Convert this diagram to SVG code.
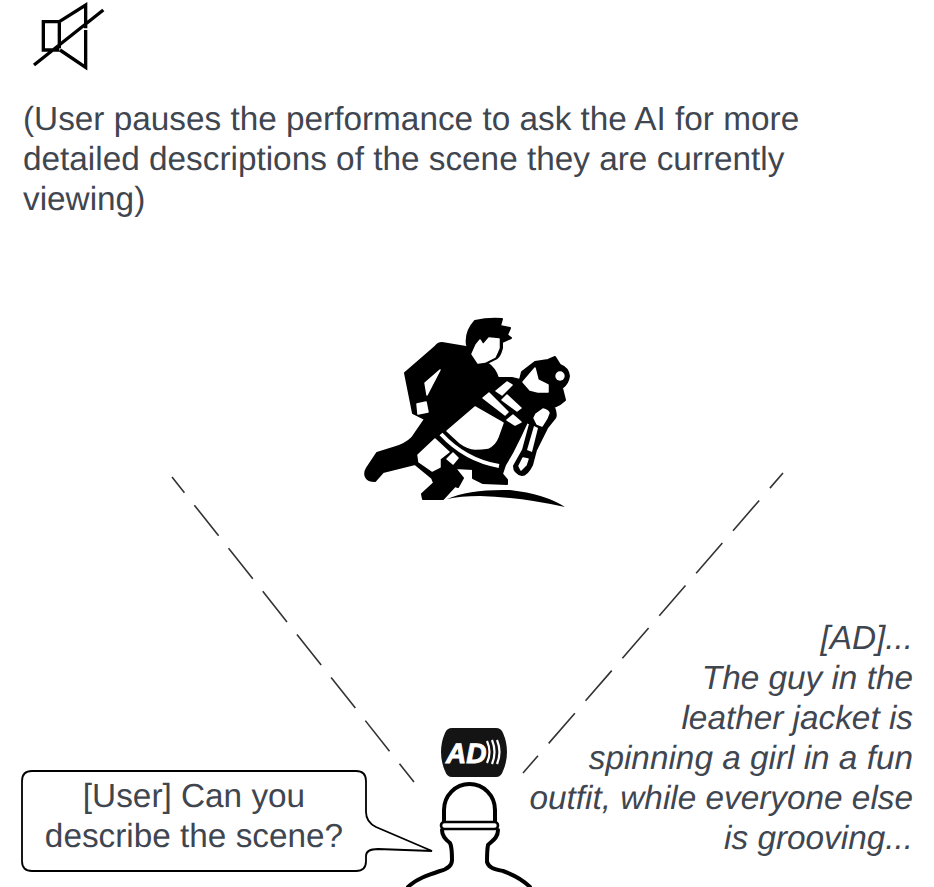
<svg xmlns="http://www.w3.org/2000/svg" width="934" height="887" viewBox="0 0 934 887">
<style>
text{font-family:"Liberation Sans",Arial,sans-serif;font-size:33.33px;fill:#3f4650;text-rendering:geometricPrecision}
.it{font-style:italic;text-anchor:end}
.mid{text-anchor:middle}
.ln{fill:none;stroke:#000;stroke-linejoin:round;stroke-linecap:round}
.dash{fill:none;stroke:#333;stroke-width:1.6}
.blk{fill:#000;stroke:#000;stroke-width:2;stroke-linejoin:round}
.wht{fill:#fff;stroke:#fff;stroke-width:1.5;stroke-linejoin:round}
</style>
<rect width="934" height="887" fill="#fff"/>
<g id="mute-icon" transform="translate(20,0) scale(.3333)">
<path class="ln" style="stroke-linecap:butt;stroke-linejoin:miter" stroke-width="10" d="M118 150H70V65H118V145M118 65L197 15V85M197 90V202L120 150M42 195L250 30"/>
</g>
<g id="caption">
<text x="23" y="130">(User pauses the performance to ask the AI for more</text>
<text x="23" y="170">detailed descriptions of the scene they are currently</text>
<text x="23" y="210">viewing)</text>
</g>
<g id="dancers">
<path class="blk" d="M472 348L467 345Q465 332 475 321Q488 318 502 319L500 326L510 328L507 335L511 338L502 342L502 348Q500 356 497 358L487 363Q495 368 498 378L512 378L520 380L522 372L535 362L548 360L555 357L560 365Q568 368 569 376Q568 384 562 388L565 400Q560 405 554 407Q557 415 555 418L547 428L536 450L532 465Q527 475 522 475Q514 473 514 466L523 450L530 424L527 422L520 437L512 453L505 465L502 474L507 480L507 484L483 483L473 478L473 469L455 468L463 478L458 487L455 486L443 499L423 499L422 494L434 483L432 478L415 464L383 472L375 481Q368 481 366 477Q364 473 367 468L377 453L393 448Q405 445 412 438L425 419L413 413L405 373L435 347Q438 343 442 343Z"/>
<path class="wht" d="M480 340L483 345L489 338L499 339L499 348Q497 353 495 357L485 362L478 363L472 354L476 345Z"/>
<path class="wht" d="M440 370L425 383L427 395Z"/>
<path class="wht" d="M417 404L426 402L428 412L418 414Z"/>
<path class="wht" d="M435 439L418 455L419 462L432 471L440 467L440 459L449 452Z"/>
<path class="wht" d="M453 453L447 459L453 464L458 458Z"/>
<path class="wht" d="M475 407L447 431L460 443Q468 449 475 449Q482 449 488 448Q495 445 498 437L503 423Z"/>
<path d="M441 434Q465 460 499 466" fill="none" stroke="#fff" stroke-width="4"/>
<path class="wht" d="M523 382L535 368L538 380L548 385L548 392L538 392L530 390Z"/>
<circle cx="560" cy="376" r="4.7" fill="#fff"/>
<path class="wht" d="M496 391L507 382L512 385L502 395Z"/>
<path class="wht" d="M483 398L489 393L508 412L505 415Z"/>
<path class="wht" d="M502 400L507 395L521 408L517 411Z"/>
<path class="wht" d="M507 420L513 415L521 422L515 425Z"/>
<path class="wht" d="M534 418L536 414L543 409Q548 410 549 413L547 418L542 426L537 424Z"/>
<path fill="#fff" d="M534 426L538 428L532 452L527 450Z"/>
<path class="wht" d="M523 458L528 459L526 465L521 470L519 466Z"/>
<path fill="#000" d="M447 499Q470 489 510 490Q545 494 565 507Q520 497 480 496Q460 496 447 499Z"/>
</g>
<g id="connectors">
<path class="dash" stroke-dasharray="39 16" stroke-dashoffset="19" d="M172 477L414 782"/>
<path class="dash" stroke-dasharray="40 16.3" stroke-dashoffset="20" d="M783 473L523 773"/>
</g>
<g id="ad-icon">
<path fill="#141414" d="M452 728H496Q501 728 503 733Q507 742 507 752Q507 762 503 771Q501 777 496 777H452Q447 777 445 771Q441 762 441 752Q441 742 445 733Q447 728 452 728Z"/>
<text x="446" y="763" style="font-size:28px;font-weight:bold;font-style:italic;fill:#fff;stroke:#fff;stroke-width:.9">AD</text>
<g fill="none" stroke="#fff" stroke-width="2.2">
<path d="M487 741Q492 752 487 763"/><path d="M492 740Q497 752 492 764"/><path d="M497 740Q502 752 497 764"/>
</g>
</g>
<g id="user-figure">
<path class="ln" stroke-width="4" d="M444 822V810A25.5 26 0 0 1 495 810V822"/>
<rect x="441" y="822" width="57" height="7" rx="3.5" fill="#fff" stroke="#000" stroke-width="2.6"/>
<path class="ln" stroke-width="4" d="M442 830C442 836 446 840 450 843C452 847 452 855 452 860C452 866 448 869 440 871C428 875 416 879 408 887M498 830C498 838 492 841 488 845C487 850 487 857 487 862C489 868 494 869 503 871C514 875 522 879 530 887"/>
</g>
<g id="user-bubble">
<path fill="#fff" stroke="#000" stroke-width="1.8" d="M32 771H356Q366 771 366 781V812Q366 822 376 827L432 851L378 849Q366 849 366 856V861Q366 871 356 871H32Q22 871 22 861V781Q22 771 32 771Z"/>
<text class="mid" x="194" y="807">[User] Can you</text>
<text class="mid" x="194" y="847">describe the scene?</text>
</g>
<g id="ad-description">
<text class="it" x="913" y="649">[AD]...</text>
<text class="it" x="913" y="689">The guy in the</text>
<text class="it" x="913" y="729">leather jacket is</text>
<text class="it" x="913" y="769">spinning a girl in a fun</text>
<text class="it" x="913" y="809">outfit, while everyone else</text>
<text class="it" x="913" y="849">is grooving...</text>
</g>
</svg>
